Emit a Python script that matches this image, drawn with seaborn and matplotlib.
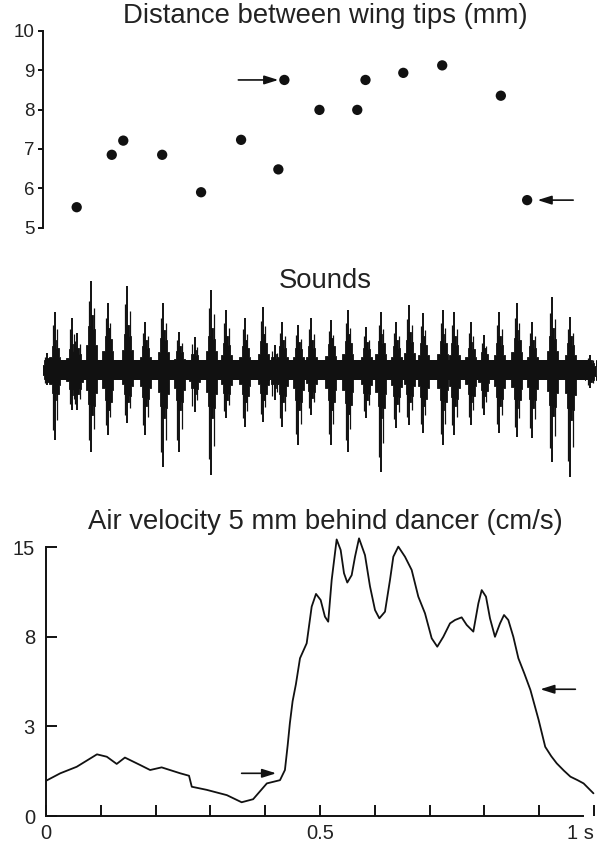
import numpy as np
import pandas as pd
import matplotlib
matplotlib.use("Agg")
import matplotlib.pyplot as plt
import seaborn as sns

# ---------------- data ----------------
# Top panel: distance between wing tips (mm) vs time (s)
wing_t = [0.056, 0.120, 0.141, 0.212, 0.283, 0.356, 0.424, 0.435,
          0.499, 0.568, 0.583, 0.652, 0.723, 0.830, 0.878]
wing_mm = [5.52, 6.85, 7.21, 6.85, 5.90, 7.23, 6.48, 8.75,
           7.99, 7.99, 8.75, 8.93, 9.12, 8.35, 5.70]

# Middle panel: sound bursts (time, upward peak, downward peak, body up, body down)
burst_t = [0.002, 0.016, 0.047, 0.057, 0.083, 0.113, 0.148, 0.181, 0.214,
           0.243, 0.271, 0.302, 0.329, 0.363, 0.396, 0.417, 0.431, 0.460,
           0.484, 0.520, 0.551, 0.584, 0.611, 0.639, 0.663, 0.688, 0.724,
           0.745, 0.775, 0.799, 0.827, 0.859, 0.887, 0.924, 0.957, 0.993]
burst_up = [17, 58, 52, 37, 89, 67, 84, 48, 67, 38, 33, 80, 60, 52, 63, 25,
            48, 45, 52, 50, 60, 43, 58, 48, 65, 57, 60, 58, 48, 35, 58, 67,
            48, 73, 53, 15]
burst_down = [15, 70, 40, 40, 82, 65, 53, 65, 97, 82, 42, 105, 48, 57, 52, 30,
              57, 75, 45, 75, 82, 48, 102, 58, 55, 63, 75, 65, 55, 45, 63, 67,
              68, 92, 107, 18]
body_up = [12, 30, 26, 22, 55, 42, 45, 30, 40, 24, 20, 42, 34, 30, 36, 16,
           30, 28, 30, 32, 36, 28, 36, 30, 38, 34, 36, 34, 28, 22, 34, 40,
           30, 42, 34, 10]
body_down = [12, 30, 25, 24, 45, 40, 32, 36, 48, 40, 24, 48, 30, 32, 30, 18,
             32, 40, 28, 40, 44, 30, 48, 34, 32, 36, 40, 36, 32, 26, 36, 38,
             38, 46, 50, 12]
band_half = 10

# Bottom panel: air velocity (cm/s) vs time (s)
vel_t = [0.000, 0.026, 0.056, 0.093, 0.111, 0.129, 0.144, 0.172, 0.190,
         0.211, 0.245, 0.261, 0.266, 0.293, 0.330, 0.357, 0.378, 0.403,
         0.427, 0.436, 0.441, 0.445, 0.450, 0.456, 0.4635, 0.4757, 0.4848,
         0.4927, 0.5012, 0.509, 0.515, 0.5213, 0.5304, 0.5377, 0.5438,
         0.5498, 0.5578, 0.5639, 0.5712, 0.5821, 0.5912, 0.6004, 0.6083,
         0.6186, 0.6277, 0.6338, 0.6429, 0.6551, 0.6673, 0.6794, 0.6916,
         0.7038, 0.714, 0.725, 0.7372, 0.7464, 0.7585, 0.7677, 0.7798,
         0.789, 0.7951, 0.8029, 0.8102, 0.8193, 0.8285, 0.8358, 0.8436,
         0.8528, 0.862, 0.873, 0.884, 0.899, 0.911, 0.922, 0.932, 0.945,
         0.957, 0.970, 0.981, 0.999]
vel_v = [0.94, 1.18, 1.40, 1.85, 1.76, 1.50, 1.73, 1.46, 1.29,
         1.38, 1.18, 1.10, 0.76, 0.67, 0.52, 0.33, 0.41, 0.86,
         0.96, 1.29, 2.20, 3.14, 4.20, 5.10, 6.62, 7.57, 10.13,
         11.1, 10.63, 9.40, 9.04, 12.2, 15.7, 14.75, 12.76,
         12.0, 12.6, 14.16, 15.8, 14.3, 11.7, 9.88, 9.28,
         9.76, 12.2, 14.16, 15.05, 14.16, 13.03, 10.89, 9.64,
         7.90, 7.35, 8.00, 8.92, 9.16, 9.35, 8.81, 8.35,
         10.38, 11.4, 10.89, 9.28, 8.00, 8.92, 9.52, 9.16,
         8.00, 6.62, 5.70, 4.79, 3.29, 2.14, 1.78, 1.52, 1.27,
         1.07, 0.96, 0.86, 0.57]

wing_yticks = [5, 6, 7, 8, 9, 10]
vel_yticks = [0, 3, 8, 15]
time_ticks = [0.0, 0.1, 0.2, 0.3, 0.4, 0.5, 0.6, 0.7, 0.8, 0.9, 1.0]
time_labels = ["0", "", "", "", "", "0.5", "", "", "", "", "1 s"]

titles = ["Distance between wing tips (mm)", "Sounds",
          "Air velocity 5 mm behind dancer (cm/s)"]

# ---------------- style ----------------
sns.set_theme(style="white")
plt.rcParams["font.family"] = ["Liberation Sans", "DejaVu Sans"]
ink = "#111111"
txt = "#222222"

W, H = 597, 850
fig = plt.figure(figsize=(W / 100, H / 100), dpi=100)

def box(l, t, r, b):
    return [l / W, 1 - b / H, (r - l) / W, (b - t) / H]

x0 = 46.0
xs = 548.0  # px per second

# ---------------- top panel ----------------
ax1 = fig.add_axes(box(43.3, 30.7, W, 227.7))
df_w = pd.DataFrame({"t": wing_t, "mm": wing_mm})
sns.scatterplot(data=df_w, x="t", y="mm", ax=ax1, color=ink, s=55,
                edgecolor="none", linewidth=0, legend=False)
ax1.set_xlim((43.3 - x0) / xs, (W - x0) / xs)
ax1.set_ylim(5, 10)
ax1.set_yticks(wing_yticks)
ax1.set_yticklabels([str(v) for v in wing_yticks])
ax1.set_xticks([])
for s in ["top", "right", "bottom"]:
    ax1.spines[s].set_visible(False)
ax1.spines["left"].set_color(ink)
ax1.spines["left"].set_linewidth(1.4)
ax1.tick_params(axis="y", direction="out", length=3.5, width=1.4, color=ink,
                pad=3, labelsize=13.5, labelcolor=txt, left=True)
ax1.set_xlabel("")
ax1.set_ylabel("")
arrow_kw = dict(arrowstyle="-|>,head_length=0.7,head_width=0.22", color=ink,
                lw=1.2, shrinkA=0, shrinkB=0)
ax1.annotate("", xy=(0.424, 8.75), xytext=(0.351, 8.75), arrowprops=arrow_kw)
ax1.annotate("", xy=(0.897, 5.70), xytext=(0.962, 5.70), arrowprops=arrow_kw)

# ---------------- middle panel ----------------
ax2 = fig.add_axes(box(43.3, 260, W, 480))
ax2.set_xlim((43.3 - x0) / xs, (W - x0) / xs)
ax2.set_ylim(-110, 110)
ax2.axis("off")
t0, t1 = burst_t[0], burst_t[-1] + 0.002
ax2.fill_between([t0, t1], [-band_half, -band_half], [band_half, band_half],
                 color=ink, lw=0)
w = 5.5 / xs
for t, up, dn, bu, bd in zip(burst_t, burst_up, burst_down, body_up, body_down):
    px = [t - w, t - w, t - 0.55 * w, t - 0.55 * w, t - 0.15 * w, t - 0.15 * w,
          t + 0.3 * w, t + 0.3 * w, t + 0.7 * w, t + 0.7 * w, t + w, t + w]
    top = [band_half, 0.45 * bu, 0.45 * bu, 0.8 * bu, 0.8 * bu, bu,
           bu, 0.75 * bu, 0.75 * bu, 0.45 * bu, 0.45 * bu, band_half]
    bot = [-band_half, -0.45 * bd, -0.45 * bd, -0.75 * bd, -0.75 * bd, -bd,
           -bd, -0.8 * bd, -0.8 * bd, -0.5 * bd, -0.5 * bd, -band_half]
    ax2.fill(px + px[::-1], top + bot[::-1], color=ink, lw=0.6)
    ax2.vlines([t], -dn, up, color=ink, lw=1.4)
    ax2.vlines([t - 0.4 * w, t + 0.45 * w], [-0.85 * dn, -0.72 * dn],
               [0.78 * up, 0.7 * up], color=ink, lw=0.9)

# ---------------- bottom panel ----------------
ax3 = fig.add_axes(box(x0, 530, W, 816))
df_v = pd.DataFrame({"t": vel_t, "v": vel_v})
fwd = lambda y: np.sqrt(np.clip(np.asarray(y, float) + 1.0, 0, None))
inv = lambda u: np.asarray(u, float) ** 2 - 1.0
ax3.set_yscale("function", functions=(fwd, inv))
sns.lineplot(data=df_v, x="t", y="v", ax=ax3, color=ink, lw=1.3,
             estimator=None, sort=False)
ax3.set_xlim(0, (W - x0) / xs)
top_v = ((816 - 530) / 89.6 + 1) ** 2 - 1
ax3.set_ylim(0, top_v)
ax3.set_yticks(vel_yticks)
ax3.set_yticklabels([str(v) for v in vel_yticks])
ax3.yaxis.set_minor_locator(matplotlib.ticker.NullLocator())
ax3.set_xticks(time_ticks)
ax3.set_xticklabels(time_labels)
for s in ["top", "right"]:
    ax3.spines[s].set_visible(False)
for s in ["left", "bottom"]:
    ax3.spines[s].set_color(ink)
    ax3.spines[s].set_linewidth(1.4)
ax3.spines["left"].set_bounds(0, 15)
ax3.spines["bottom"].set_bounds(0, 0.98)
ax3.tick_params(axis="y", direction="in", length=8, width=1.4, color=ink,
                pad=8, labelsize=14.5, labelcolor=txt, left=True)
ax3.tick_params(axis="x", direction="in", length=8, width=1.4, color=ink,
                pad=6, labelsize=14.5, labelcolor=txt, bottom=True)
for lab in ax3.get_xticklabels():
    if lab.get_text() == "1 s":
        lab.set_horizontalalignment("right")
ax3.set_xlabel("")
ax3.set_ylabel("")
ax3.annotate("", xy=(0.42, 1.18), xytext=(0.357, 1.18), arrowprops=arrow_kw)
ax3.annotate("", xy=(0.902, 4.83), xytext=(0.966, 4.83), arrowprops=arrow_kw)

# ---------------- titles ----------------
fig.text(325 / W, 1 - 16 / H, titles[0], ha="center", va="center",
         fontsize=19.8, color=txt)
fig.text(325 / W, 1 - 281 / H, titles[1], ha="center", va="center",
         fontsize=19.8, color=txt)
fig.text(325 / W, 1 - 522 / H, titles[2], ha="center", va="center",
         fontsize=19.8, color=txt)

fig.savefig("out.png", dpi=100)
